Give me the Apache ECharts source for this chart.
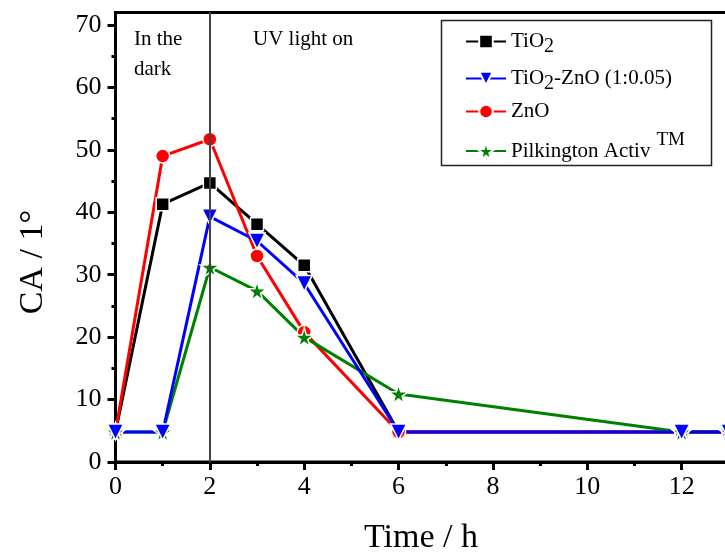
<!DOCTYPE html>
<html>
<head>
<meta charset="utf-8">
<script src="https://cdn.jsdelivr.net/npm/echarts@6/dist/echarts.min.js"></script>
<style>html,body{margin:0;padding:0;background:#fff;}#c{width:725px;height:558px;}</style>
</head>
<body>
<div id="c"></div>
<script>
// ---- data ----
const times = [0, 1, 2, 3, 4, 6, 12, 13];
const tio2 = [4.8, 41.3, 44.7, 38.1, 31.5, 4.8, 4.8, 4.8];
const tio2zno = [4.8, 4.8, 39.3, 35.4, 28.6, 4.8, 4.8, 4.8];
const zno = [4.8, 49.0, 51.7, 33.0, 20.8, 4.8, 4.8, 4.8];
const pilk = [4.8, 4.8, 31.2, 27.4, 20.0, 10.9, 4.8, 4.8];
const yMajorTicks = [0, 10, 20, 30, 40, 50, 60, 70];
const yMinorTicks = [5, 15, 25, 35, 45, 55, 65];
const lightOnTime = 2;

const pair = (arr) => times.map((t, i) => [t, arr[i]]);
const serif = '"Liberation Serif", "Times New Roman", serif';
const starPath = 'path://M50,0 L61,35 L98,35 L68,57 L79,91 L50,70 L21,91 L32,57 L2,35 L39,35 Z';

function mkSeries(name, data, color, symbol, size, rotate) {
  return {
    name: name, type: 'line', data: pair(data),
    symbol: symbol, symbolSize: size, symbolRotate: rotate || 0,
    lineStyle: { color: color, width: 3 },
    itemStyle: { color: color, borderColor: '#fff', borderWidth: 1.5 },
    clip: false
  };
}

const chart = echarts.init(document.getElementById('c'), null, { renderer: 'canvas' });

const legendBase = (name, top, fmt, rich, ih) => ({
  data: [name], left: 465, top: top, orient: 'vertical', padding: 0,
  itemWidth: 40, itemHeight: ih || 17, itemGap: 0, selectedMode: false,
  formatter: () => fmt,
  textStyle: { fontFamily: serif, fontSize: 21, color: '#000', rich: rich }
});

const richBase = {
  n: { fontFamily: serif, fontSize: 21, color: '#000', lineHeight: 30 },
  s: { fontFamily: serif, fontSize: 20, color: '#000', lineHeight: 18, verticalAlign: 'bottom' },
};
const richTM = {
  n: { fontFamily: serif, fontSize: 21, color: '#000', lineHeight: 40 },
  t: { fontFamily: serif, fontSize: 19, color: '#000', lineHeight: 19, verticalAlign: 'top', padding: [0, 0, 0, 6] }
};

const s1 = mkSeries('TiO2', tio2, '#000000', 'rect', 13);
s1.markLine = {
  silent: true, symbol: 'none', label: { show: false },
  lineStyle: { color: '#444', width: 2, type: 'solid' },
  data: [{ xAxis: lightOnTime }]
};
const s2 = mkSeries('ZnO', zno, '#ff0000', 'circle', 14);
const s3 = mkSeries('Pilkington', pilk, '#008000', starPath, 19);
const s4 = mkSeries('TiO2-ZnO', tio2zno, '#0000ff', 'triangle', 16, 180);

chart.setOption({
  animation: false,
  backgroundColor: '#fff',
  grid: { left: 115.5, right: -51, top: 12.5, bottom: 96, show: true, borderColor: '#000', borderWidth: 3,
          outerBoundsMode: 'none', containLabel: false },
  xAxis: {
    type: 'value', min: 0, max: 14, interval: 2,
    axisLine: { lineStyle: { color: '#000', width: 3 } },
    axisTick: { inside: false, length: 8, lineStyle: { color: '#000', width: 3 } },
    minorTick: { show: true, splitNumber: 2, length: 4, lineStyle: { color: '#000', width: 3 } },
    splitLine: { show: false },
    axisLabel: { fontFamily: serif, fontSize: 26, color: '#000', margin: 12 }
  },
  yAxis: [{
    type: 'value', min: 0, max: 72, interval: 10,
    axisLine: { lineStyle: { color: '#000', width: 3 } },
    axisTick: { inside: false, length: 8, customValues: yMajorTicks, lineStyle: { color: '#000', width: 3 } },
    splitLine: { show: false },
    axisLabel: { fontFamily: serif, fontSize: 26, color: '#000', margin: 14, customValues: yMajorTicks }
  }, {
    type: 'value', min: 0, max: 72, interval: 10, position: 'left',
    axisLine: { show: false },
    axisTick: { show: true, inside: false, length: 4, customValues: yMinorTicks, lineStyle: { color: '#000', width: 3 } },
    splitLine: { show: false },
    axisLabel: { show: false }
  }],
  legend: [
    legendBase('TiO2', 31, '{n|TiO}{s|2}', richBase),
    legendBase('TiO2-ZnO', 68, '{n|TiO}{s|2}{n|-ZnO (1:0.05)}', richBase),
    legendBase('ZnO', 101, '{n|ZnO}', richBase),
    legendBase('Pilkington', 131, '{n|Pilkington Activ}{t|TM}', richTM, 22)
  ],
  graphic: [
    { type: 'rect', shape: { x: 441.5, y: 20.5, width: 270, height: 145 }, style: { fill: 'none', stroke: '#222', lineWidth: 1.5 }, z: 100 },
    { type: 'text', left: 134, top: 24, style: { text: 'In the\ndark', font: '21px ' + serif, fill: '#000', lineHeight: 30 }, z: 100 },
    { type: 'text', left: 253, top: 24, style: { text: 'UV light on', font: '21px ' + serif, fill: '#000', lineHeight: 30 }, z: 100 },
    { type: 'text', x: 421, y: 538, style: { text: 'Time / h', font: '34px ' + serif, fill: '#000', align: 'center', verticalAlign: 'middle' }, z: 100 },
    { type: 'text', x: 33, y: 262, rotation: Math.PI / 2, style: { text: 'CA / 1°', font: '34px ' + serif, fill: '#000', align: 'center', verticalAlign: 'middle' }, z: 100 }
  ],
  series: [s1, s2, s3, s4]
});
</script>
</body>
</html>
